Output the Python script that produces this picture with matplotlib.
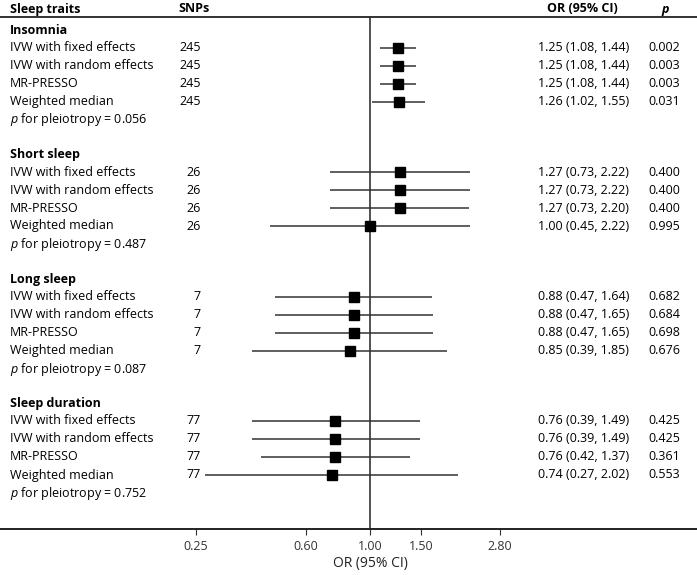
import numpy as np
import matplotlib
matplotlib.use("Agg")
import matplotlib.pyplot as plt

plt.rcParams["font.family"] = ["Open Sans", "DejaVu Sans"]
plt.rcParams["mathtext.fontset"] = "custom"
plt.rcParams["mathtext.rm"] = "Open Sans"
plt.rcParams["mathtext.it"] = "Open Sans:italic"

# data
traits = ["Insomnia", "Short sleep", "Long sleep", "Sleep duration"]
methods = ["IVW with fixed effects", "IVW with random effects", "MR-PRESSO", "Weighted median"]
snps = [245, 26, 7, 77]
pleio = [0.056, 0.487, 0.087, 0.752]
odds = [[1.25, 1.25, 1.25, 1.26],
        [1.27, 1.27, 1.27, 1.00],
        [0.88, 0.88, 0.88, 0.85],
        [0.76, 0.76, 0.76, 0.74]]
lower = [[1.08, 1.08, 1.08, 1.02],
         [0.73, 0.73, 0.73, 0.45],
         [0.47, 0.47, 0.47, 0.39],
         [0.39, 0.39, 0.42, 0.27]]
upper = [[1.44, 1.44, 1.44, 1.55],
         [2.22, 2.22, 2.20, 2.22],
         [1.64, 1.65, 1.65, 1.85],
         [1.49, 1.49, 1.37, 2.02]]
pvals = [[0.002, 0.003, 0.003, 0.031],
         [0.400, 0.400, 0.400, 0.995],
         [0.682, 0.684, 0.698, 0.676],
         [0.425, 0.425, 0.361, 0.553]]
xticks = [0.25, 0.60, 1.00, 1.50, 2.80]

W, H = 697, 575
fig = plt.figure(figsize=(W / 100, H / 100), dpi=100)

# layout in pixels
top_rule, bottom_rule = 17, 529
x_ref, px_per_ln = 370, 125.8
group_y0, group_step, row_step = 30, 124.5, 18
fs = 9

tab = fig.add_axes([0, 0, 1, 1])
tab.set_xlim(0, W)
tab.set_ylim(H, 0)
tab.axis("off")

fp = fig.add_axes([0, (H - bottom_rule) / H, 1, (bottom_rule - top_rule) / H])
fp.patch.set_alpha(0)
fp.set_xscale("log")
fp.set_xlim(np.exp(-x_ref / px_per_ln), np.exp((W - x_ref) / px_per_ln))
fp.set_ylim(bottom_rule, top_rule)
for s in ["top", "right", "left"]:
    fp.spines[s].set_visible(False)
fp.spines["bottom"].set_linewidth(1.4)
fp.spines["bottom"].set_color("#222222")
fp.set_yticks([])
fp.set_xticks(xticks)
fp.set_xticklabels([f"{t:.2f}" for t in xticks], fontsize=9, color="#333333")
fp.xaxis.set_minor_locator(matplotlib.ticker.NullLocator())
fp.tick_params(axis="x", length=4, width=0.8, color="#333333", pad=4)
fp.axvline(1.0, color="#222222", lw=1.1)

# x label centred on the null line
tab.text(x_ref, 563, "OR (95% CI)", fontsize=10, color="#222222",
         ha="center", va="center")

# header
tab.plot([0, W], [top_rule, top_rule], color="#333333", lw=1.4)
hy = 9
tab.text(10, hy, "Sleep traits", fontsize=fs, fontweight="bold", va="center")
tab.text(178, hy, "SNPs", fontsize=fs, fontweight="bold", va="center")
tab.text(547, hy, "OR (95% CI)", fontsize=fs, fontweight="bold", va="center")
tab.text(665, hy, "p", fontsize=fs, fontweight="bold", fontstyle="italic",
         va="center", ha="center")

for g, trait in enumerate(traits):
    y0 = group_y0 + g * group_step
    tab.text(10, y0, trait, fontsize=fs, fontweight="bold", va="center")
    ys = [y0 + 17.5 + i * row_step for i in range(len(methods))]
    for i, m in enumerate(methods):
        y = ys[i]
        tab.text(10, y, m, fontsize=fs, va="center")
        tab.text(201, y, str(snps[g]), fontsize=fs, va="center", ha="right")
        tab.text(538, y, f"{odds[g][i]:.2f} ({lower[g][i]:.2f}, {upper[g][i]:.2f})",
                 fontsize=fs, va="center")
        tab.text(648, y, f"{pvals[g][i]:.3f}", fontsize=fs, va="center")
    fp.hlines(ys, lower[g], upper[g], color="#333333", lw=1.1, zorder=2)
    fp.plot(odds[g], ys, "s", color="black", markersize=7, zorder=3)
    tab.text(10, y0 + 90, f"$\\it{{p}}$ for pleiotropy = {pleio[g]:.3f}",
             fontsize=fs, va="center")

fig.savefig("out.png", dpi=100)
